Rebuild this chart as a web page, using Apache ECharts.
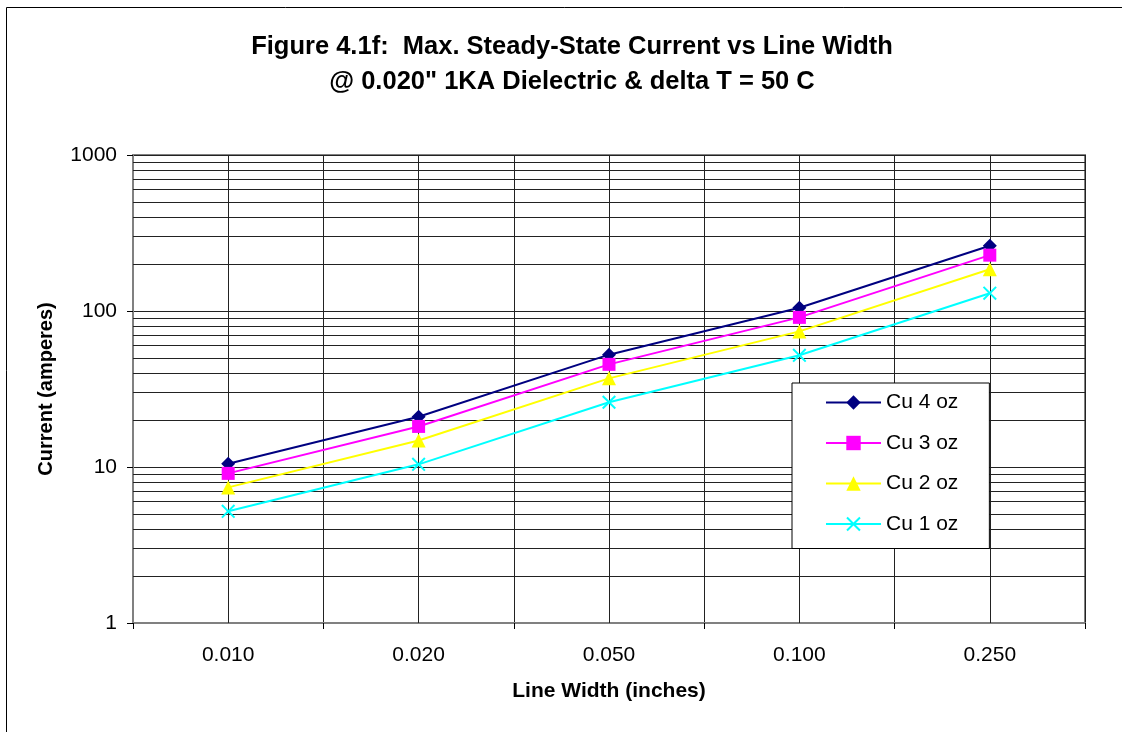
<!DOCTYPE html>
<html>
<head>
<meta charset="utf-8">
<script src="https://cdn.jsdelivr.net/npm/echarts@6/dist/echarts.min.js"></script>
<style>
html,body{margin:0;padding:0;background:#fff;}
#chart{width:1122px;height:732px;}
</style>
</head>
<body>
<div id="chart"></div>
<script>
// ---- data ----
var categories = ['0.010', '0.020', '0.050', '0.100', '0.250'];
var seriesNames = ['Cu 4 oz', 'Cu 3 oz', 'Cu 2 oz', 'Cu 1 oz'];
var cu4 = [10.5, 21, 52.5, 105, 262];
var cu3 = [9.1, 18.2, 45.5, 91, 228];
var cu2 = [7.4, 14.8, 37, 74, 185];
var cu1 = [5.2, 10.4, 26, 52, 130];
var minorGridValues = [2, 3, 4, 5, 6, 7, 8, 9, 20, 30, 40, 50, 60, 70, 80, 90, 200, 300, 400, 500, 600, 700, 800, 900];
var titleText = 'Figure 4.1f:  Max. Steady-State Current vs Line Width\n@ 0.020" 1KA Dielectric & delta T = 50 C';

var FONT = '"Liberation Sans", Arial, sans-serif';
var crossPath = 'path://M0,1 L1,0 L5,4 L9,0 L10,1 L6,5 L10,9 L9,10 L5,6 L1,10 L0,9 L4,5 Z';

var chart = echarts.init(document.getElementById('chart'), null, {renderer: 'canvas'});

function mkSeries(name, data, color, symbol, size) {
  return {
    name: name, type: 'line', data: data, z: 3,
    symbol: symbol, symbolSize: size, showSymbol: true,
    lineStyle: {color: color, width: 2},
    itemStyle: {color: color},
    emphasis: {disabled: true}
  };
}

var gridMarks = minorGridValues.map(function (v) { return {yAxis: v}; })
  .concat(categories.map(function (c, i) { return {xAxis: i}; }));

var option = {
  animation: false,
  backgroundColor: '#fff',
  title: {
    text: titleText,
    left: 567, top: 24, textAlign: 'center',
    textStyle: {fontFamily: FONT, fontSize: 25.5, fontWeight: 'bold', color: '#000', lineHeight: 35}
  },
  graphic: [{
    type: 'rect', left: 4, top: 5, silent: true,
    shape: {x: 0, y: 0, width: 1140, height: 760},
    style: {fill: null, stroke: '#000', lineWidth: 1}
  }],
  legend: {
    data: seriesNames,
    orient: 'vertical',
    left: 792, top: 383, z: 10,
    padding: [9, 31, 14, 33],
    itemGap: 19.5,
    itemWidth: 55, itemHeight: 18,
    backgroundColor: '#fff', borderColor: '#000', borderWidth: 1, borderRadius: 0,
    textStyle: {fontFamily: FONT, fontSize: 21, color: '#000'}
  },
  grid: {
    left: 133, top: 155, width: 952, height: 468,
    show: true, borderColor: '#808080', borderWidth: 2, backgroundColor: 'transparent'
  },
  xAxis: {
    type: 'category', data: categories, boundaryGap: true,
    name: 'Line Width (inches)', nameLocation: 'middle', nameGap: 58,
    nameTextStyle: {fontFamily: FONT, fontSize: 21, fontWeight: 'bold', color: '#000'},
    axisLine: {show: true, lineStyle: {color: '#808080', width: 2}},
    axisTick: {show: true, inside: false, length: 6, lineStyle: {color: '#000'}},
    axisLabel: {fontFamily: FONT, fontSize: 21, color: '#000', margin: 22},
    splitLine: {show: true, lineStyle: {color: '#222', width: 1}}
  },
  yAxis: {
    type: 'log', logBase: 10, min: 1, max: 1000,
    name: 'Current (amperes)', nameLocation: 'middle', nameGap: 77,
    nameTextStyle: {fontFamily: FONT, fontSize: 20, fontWeight: 'bold', color: '#000'},
    axisLine: {show: true, lineStyle: {color: '#808080', width: 2}},
    axisTick: {show: true, inside: false, length: 6, lineStyle: {color: '#000'}},
    axisLabel: {fontFamily: FONT, fontSize: 21, color: '#000', margin: 16,
      formatter: function (v) { return String(Math.round(v)); }},
    splitLine: {show: true, lineStyle: {color: '#222', width: 1}},
    minorTick: {show: false}, minorSplitLine: {show: false}
  },
  series: [
    {
      name: 'grid', type: 'line', data: [], z: 1, silent: true,
      markLine: {
        z: 1,
        silent: true, symbol: ['none', 'none'], animation: false,
        label: {show: false},
        lineStyle: {color: '#222', width: 1, type: 'solid'},
        emphasis: {disabled: true},
        data: gridMarks
      }
    },
    mkSeries(seriesNames[0], cu4, '#000080', 'diamond', 14),
    mkSeries(seriesNames[1], cu3, '#FF00FF', 'rect', 13),
    mkSeries(seriesNames[2], cu2, '#FFFF00', 'triangle', 14),
    mkSeries(seriesNames[3], cu1, '#00FFFF', crossPath, 14)
  ]
};
chart.setOption(option);
</script>
</body>
</html>
